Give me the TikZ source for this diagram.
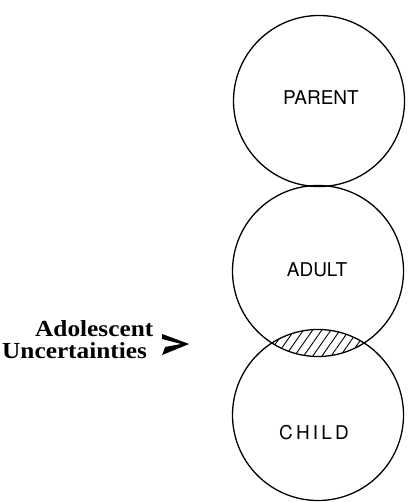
\documentclass[tikz,border=0pt]{standalone}
\usepackage{fontspec}
\setmainfont{Liberation Serif}
\newfontfamily\labfont{TeX Gyre Heros}
\usetikzlibrary{patterns.meta}
\begin{document}
\begin{tikzpicture}[x=1pt,y=-1pt,
  ring/.style={circle,draw,line width=1.3pt,minimum size=171pt,inner sep=0pt},
  tag/.style={inner sep=0pt,font=\labfont\fontsize{19}{22}\selectfont},
  side/.style={anchor=base west,inner sep=0pt,
    font=\bfseries\fontsize{23}{25}\selectfont}]
  \useasboundingbox (0,0) rectangle (410,502);
  % centres of the three ego states
  \coordinate (pc) at (319,101);
  \coordinate (ac) at (318,271);
  \coordinate (cc) at (318,415);
  % overlap of adult and child, hatched
  \begin{scope}
    \clip (ac) circle (85.5);
    \fill[pattern={Lines[angle=55,distance=7.5pt,line width=0.9pt]}] (cc) circle (85.5);
  \end{scope}
  \node[ring] (parent) at (pc) {};
  \node[ring] (adult) at (ac) {};
  \node[ring] (child) at (cc) {};
  \node[tag] (ptag) at (321,98) {PARENT};
  \node[tag] (atag) at (317,270) {ADULT};
  \node[tag] (ctag) at (314,433) {C\,H\,I\,L\,D};
  % side label and its pointer
  \node[side] (adol) at (35,336) {\scalebox{1.1}[1]{Adolescent}};
  \node[side] (unc) at (2,358) {\scalebox{1.1}[1]{Uncertainties}};
  \fill ([shift={(15,-24)}]unc.base east) -- ++(27,10) -- ++(-27,11)
        -- ++(3,-8) -- ++(16,-3) -- ++(-19,-5) -- cycle;
\end{tikzpicture}
\end{document}
